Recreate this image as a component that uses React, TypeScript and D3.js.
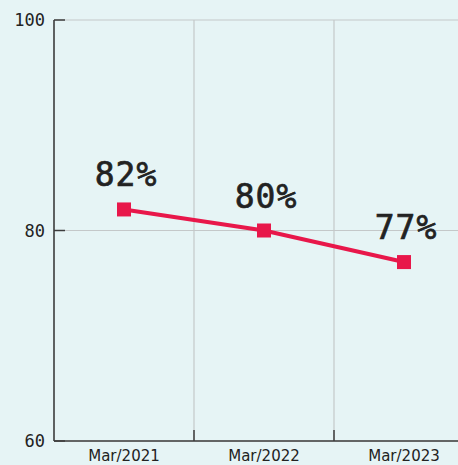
import React from "react";
import * as d3 from "d3";

const categories = ["Mar/2021", "Mar/2022", "Mar/2023"];
const values = [82, 80, 77];
const valueLabels = ["82%", "80%", "77%"];
const yTicks = [60, 80, 100];

const W = 458;
const H = 465;

export default function App() {
  const x = d3.scaleBand<string>().domain(categories).range([54, 474]).padding(0);
  const y = d3.scaleLinear().domain([60, 100]).range([441, 20]);
  const cx = (c: string) => (x(c) as number) + x.bandwidth() / 2;
  const line = d3
    .line<number>()
    .x((_, i) => cx(categories[i]))
    .y((d) => y(d));
  const axisColor = "#3c3c3c";
  const gridColor = "#c4c8c9";
  const red = "#e8174a";
  return (
    <svg
      width={W}
      height={H}
      style={{ position: "absolute", left: 0, top: 0, background: "#e6f4f5" }}
    >
      <rect x={0} y={0} width={W} height={H} fill="#e6f4f5" />
      {yTicks.map((t) => (
        <line key={"g" + t} x1={54} x2={W} y1={y(t)} y2={y(t)} stroke={gridColor} strokeWidth={1.2} />
      ))}
      {categories.slice(1).map((c) => (
        <line key={"v" + c} x1={x(c) as number} x2={x(c) as number} y1={20} y2={441} stroke={gridColor} strokeWidth={1.2} />
      ))}
      {yTicks.map((t) => (
        <line key={"yt" + t} x1={54} x2={65} y1={y(t)} y2={y(t)} stroke={axisColor} strokeWidth={1.5} />
      ))}
      {yTicks.map((t) => (
        <text
          key={"yl" + t}
          x={45}
          y={y(t)}
          dy="0.36em"
          textAnchor="end"
          fontFamily="DejaVu Sans Mono"
          fontSize={17}
          fill="#222"
        >
          {t}
        </text>
      ))}
      {categories.slice(1).map((c) => (
        <line key={"xt" + c} x1={x(c) as number} x2={x(c) as number} y1={430} y2={441} stroke={axisColor} strokeWidth={1.5} />
      ))}
      <line x1={54} x2={54} y1={20} y2={441} stroke={axisColor} strokeWidth={1.6} />
      <line x1={54} x2={W} y1={441} y2={441} stroke={axisColor} strokeWidth={1.6} />
      {categories.map((c) => (
        <text
          key={"xl" + c}
          x={cx(c)}
          y={461}
          textAnchor="middle"
          fontFamily="DejaVu Sans"
          fontSize={15}
          fill="#222"
        >
          {c}
        </text>
      ))}
      <path d={line(values) || ""} fill="none" stroke={red} strokeWidth={4} />
      {values.map((v, i) => (
        <rect
          key={"m" + i}
          x={cx(categories[i]) - 7}
          y={y(v) - 7}
          width={14}
          height={14}
          fill={red}
        />
      ))}
      {values.map((v, i) => (
        <text
          key={"vl" + i}
          x={cx(categories[i]) + 2}
          y={y(v) - 23}
          textAnchor="middle"
          fontFamily="DejaVu Sans Mono"
          fontSize={33}
          letterSpacing={1}
          fill="#222"
          stroke="#222"
          strokeWidth={0.7}
        >
          {valueLabels[i]}
        </text>
      ))}
    </svg>
  );
}
